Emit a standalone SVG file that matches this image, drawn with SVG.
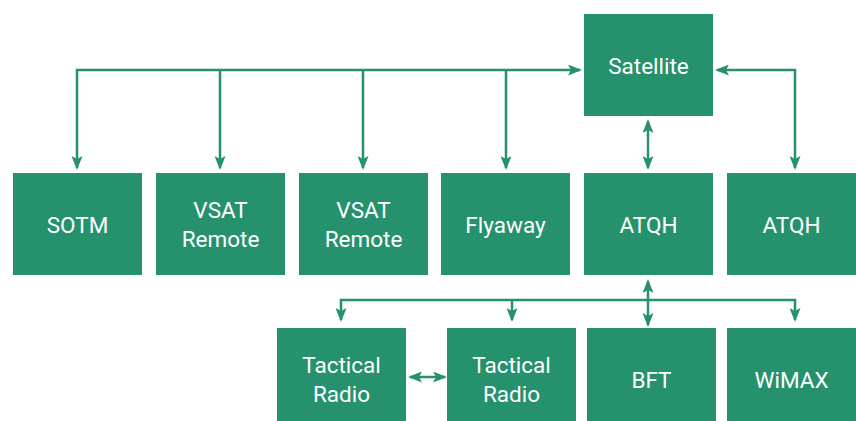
<svg xmlns="http://www.w3.org/2000/svg" width="856" height="421" viewBox="0 0 856 421">
<style>
.box{fill:#25926d}
.t{font-family:Roboto,"Liberation Sans",sans-serif;font-size:22.5px;font-weight:400;fill:#ffffff;text-anchor:middle}
.c{fill:none;stroke:#25926d;stroke-width:2.5}
</style>
<defs>
<marker id="ah" viewBox="0 0 14 11" refX="12" refY="5.5" markerWidth="14" markerHeight="11" markerUnits="userSpaceOnUse" orient="auto-start-reverse">
<path d="M0,0 L14,5.5 L0,11 L3,5.5 Z" fill="#25926d"/>
</marker>
</defs>
<rect width="856" height="421" fill="#ffffff"/>
<g id="connectors">
<path class="c" d="M77,168 V70 H580" marker-start="url(#ah)" marker-end="url(#ah)"/>
<path class="c" d="M220,70 V168" marker-end="url(#ah)"/>
<path class="c" d="M363,70 V168" marker-end="url(#ah)"/>
<path class="c" d="M506,70 V168" marker-end="url(#ah)"/>
<path class="c" d="M717,70 H795 V168" marker-start="url(#ah)" marker-end="url(#ah)"/>
<path class="c" d="M648,121 V168" marker-start="url(#ah)" marker-end="url(#ah)"/>
<path class="c" d="M341,320 V300 H795 V320" marker-start="url(#ah)" marker-end="url(#ah)"/>
<path class="c" d="M512,300 V320" marker-end="url(#ah)"/>
<path class="c" d="M648,281 V325" marker-start="url(#ah)" marker-end="url(#ah)"/>
<path class="c" d="M410,377 H445" marker-start="url(#ah)" marker-end="url(#ah)"/>
</g>
<g id="satellite"><rect class="box" x="584" y="14" width="129" height="102"/><text class="t" x="648.5" y="74">Satellite</text></g>
<g id="sotm"><rect class="box" x="13" y="173" width="129" height="102"/><text class="t" x="77.5" y="233">SOTM</text></g>
<g id="vsat1"><rect class="box" x="156" y="173" width="129" height="102"/><text class="t" x="220.5" y="218">VSAT</text><text class="t" x="220.5" y="247">Remote</text></g>
<g id="vsat2"><rect class="box" x="299" y="173" width="129" height="102"/><text class="t" x="363.5" y="218">VSAT</text><text class="t" x="363.5" y="247">Remote</text></g>
<g id="flyaway"><rect class="box" x="441" y="173" width="129" height="102"/><text class="t" x="505.5" y="233">Flyaway</text></g>
<g id="atqh1"><rect class="box" x="584" y="173" width="129" height="102"/><text class="t" x="648.5" y="233">ATQH</text></g>
<g id="atqh2"><rect class="box" x="727" y="173" width="129" height="102"/><text class="t" x="791.5" y="233">ATQH</text></g>
<g id="tactical1"><rect class="box" x="277" y="328" width="129" height="102"/><text class="t" x="341.5" y="373">Tactical</text><text class="t" x="341.5" y="402">Radio</text></g>
<g id="tactical2"><rect class="box" x="447" y="328" width="129" height="102"/><text class="t" x="511.5" y="373">Tactical</text><text class="t" x="511.5" y="402">Radio</text></g>
<g id="bft"><rect class="box" x="587" y="328" width="129" height="102"/><text class="t" x="651.5" y="388">BFT</text></g>
<g id="wimax"><rect class="box" x="727" y="328" width="129" height="102"/><text class="t" x="791.5" y="388">WiMAX</text></g>
</svg>
